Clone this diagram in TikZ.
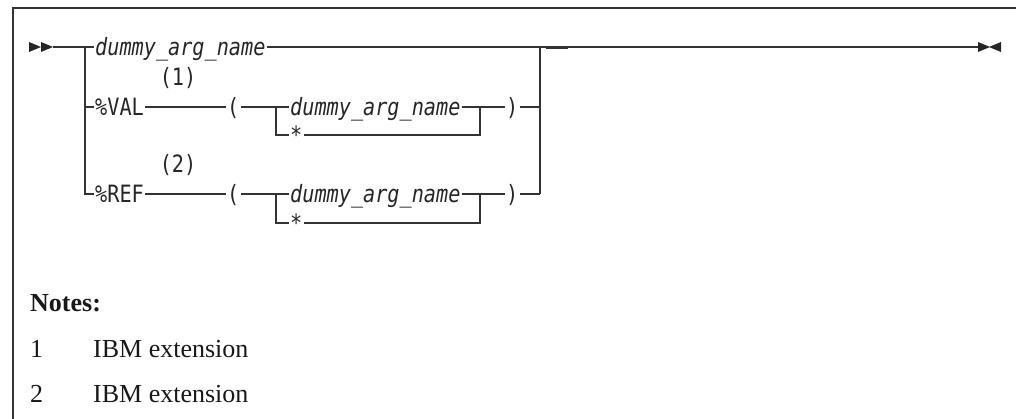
\documentclass[tikz,border=0pt]{standalone}
\usepackage{fontspec}
\setmainfont{Liberation Serif}
\newfontfamily\railfont{DejaVu Sans Mono}
\newcommand{\rt}[1]{\scalebox{1}[1.18]{#1}}
\begin{document}
\begin{tikzpicture}[x=1pt,y=-1pt,
  rail/.style={line width=1.3pt, draw=black!80},
  railtext/.style={font=\railfont\fontsize{20.2}{24}\selectfont, inner xsep=1pt, inner ysep=0pt,
    text height=22pt, text depth=4pt, anchor=west, text=black!85},
  notetext/.style={font=\fontsize{26}{30}\selectfont, inner sep=0pt, anchor=base west, text=black!90},
  marker/.style={fill=black!85}]
\useasboundingbox (0,0) rectangle (1016,419);
% frame
\draw[line width=1.5pt, draw=black!80] (13,419) -- (13,8) -- (1016,8);
% markers
\fill[marker] (29,42) -- (41,47) -- (29,52) -- cycle;
\fill[marker] (41,42) -- (53,47) -- (41,52) -- cycle;
\fill[marker] (978,42) -- (990,47) -- (978,52) -- cycle;
\fill[marker] (1001,42) -- (989,47) -- (1001,52) -- cycle;
% coordinates
\coordinate (s) at (53,47);
\coordinate (jl) at (85,47);
\coordinate (jl1) at (85,107);
\coordinate (jl2) at (85,194);
\coordinate (jr) at (540,47);
\coordinate (jr1) at (540,107);
\coordinate (jr2) at (540,194);
\coordinate (e) at (978,47);
\coordinate (a1) at (276,107);
\coordinate (a1s) at (276,135);
\coordinate (b1) at (480,107);
\coordinate (b1s) at (480,135);
\coordinate (a2) at (276,194);
\coordinate (a2s) at (276,223);
\coordinate (b2) at (480,194);
\coordinate (b2s) at (480,223);
% texts
\node[railtext] (d1) at (94,47) {\rt{\itshape dummy\_arg\_name}};
\node[railtext] (val) at (94,107) {\rt{\%VAL}};
\node[railtext, anchor=center] (n1) at (178,77) {\rt{(1)}};
\node[railtext] (lp1) at (226,107) {\rt{(}};
\node[railtext] (d2) at (289,107) {\rt{\itshape dummy\_arg\_name}};
\node[railtext] (st1) at (289,135) {\rt{*}};
\node[railtext] (rp1) at (505,107) {\rt{)}};
\node[railtext] (ref) at (94,194) {\rt{\%REF}};
\node[railtext, anchor=center] (n2) at (178,164) {\rt{(2)}};
\node[railtext] (lp2) at (226,194) {\rt{(}};
\node[railtext] (d3) at (289,194) {\rt{\itshape dummy\_arg\_name}};
\node[railtext] (st2) at (289,223) {\rt{*}};
\node[railtext] (rp2) at (505,194) {\rt{)}};
% rails
\draw[rail] (s) -- (d1.west);
\draw[rail] (d1.east) -- (e);
\draw[line width=1pt, draw=black!80] (546,48.5) -- (568,48.5);
\draw[rail] (jl) -- (jl2) -- (ref.west);
\draw[rail] (jl1) -- (val.west);
\draw[rail] (val.east) -- (lp1.west);
\draw[rail] (lp1.east) -- (d2.west);
\draw[rail] (a1) -- (a1s) -- (st1.west);
\draw[rail] (st1.east) -- (b1s) -- (b1);
\draw[rail] (d2.east) -- (rp1.west);
\draw[rail] (rp1.east) -- (jr1);
\draw[rail] (ref.east) -- (lp2.west);
\draw[rail] (lp2.east) -- (d3.west);
\draw[rail] (a2) -- (a2s) -- (st2.west);
\draw[rail] (st2.east) -- (b2s) -- (b2);
\draw[rail] (d3.east) -- (rp2.west);
\draw[rail] (rp2.east) -- (jr2);
\draw[rail] (jr) -- (jr2);
% notes
\node[notetext, font=\bfseries\fontsize{26}{30}\selectfont] (notes) at (30,311) {Notes:};
\node[notetext] (k1) at (30,357) {1};
\node[notetext] (t1) at (93,357) {IBM extension};
\node[notetext] (k2) at (30,402) {2};
\node[notetext] (t2) at (93,402) {IBM extension};
\end{tikzpicture}
\end{document}
